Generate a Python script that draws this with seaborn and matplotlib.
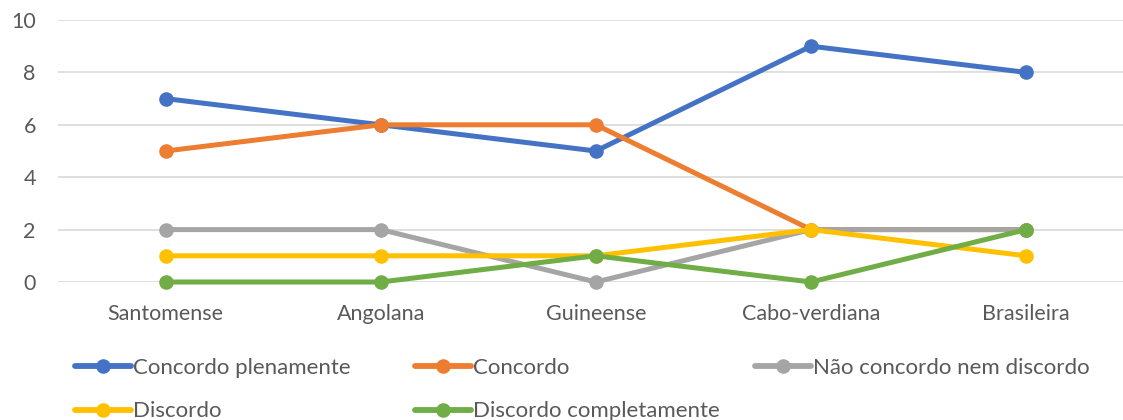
import matplotlib
matplotlib.use("Agg")
import matplotlib.pyplot as plt
import seaborn as sns
import pandas as pd
from matplotlib.lines import Line2D

categories = ["Santomense", "Angolana", "Guineense", "Cabo-verdiana", "Brasileira"]
series_names = ["Concordo plenamente", "Concordo", "Não concordo nem discordo",
                "Discordo", "Discordo completamente"]
concordo_plenamente = [7, 6, 5, 9, 8]
concordo = [5, 6, 6, 2, 2]
nem_nem = [2, 2, 0, 2, 2]
discordo = [1, 1, 1, 2, 1]
discordo_completamente = [0, 0, 1, 0, 2]
colors = ["#4472C4", "#ED7D31", "#A5A5A5", "#FFC000", "#70AD47"]

values = [concordo_plenamente, concordo, nem_nem, discordo, discordo_completamente]
rows = []
for name, vals in zip(series_names, values):
    for i, (cat, v) in enumerate(zip(categories, vals)):
        rows.append({"pos": i, "categoria": cat, "resposta": name, "valor": v})
df = pd.DataFrame(rows)

sns.set_theme(style="white")
plt.rcParams["font.family"] = ["Lato", "DejaVu Sans"]

fig = plt.figure(figsize=(11.23, 4.2), dpi=100)
ax = fig.add_axes([58 / 1123, 1 - 282 / 420, 1 - 58 / 1123, 262 / 420])

LW = 3.6
MS = 10.5
palette = dict(zip(series_names, colors))
sns.lineplot(data=df, x="pos", y="valor", hue="resposta", hue_order=series_names,
             palette=palette, marker="o", markersize=MS, markeredgewidth=0,
             linewidth=LW, legend=False, ax=ax, zorder=3)

ax.set_xlim(-0.5, 4.45)
ax.set_ylim(0, 10)
ax.set_yticks(range(0, 11, 2))
ax.set_xticks(range(len(categories)))
ax.set_xticklabels(categories)
ax.set_xlabel("")
ax.set_ylabel("")
ax.yaxis.grid(True, color="#D9D9D9", linewidth=1.2, zorder=0)
ax.set_axisbelow(True)
for s in ax.spines.values():
    s.set_visible(False)
ax.tick_params(axis="both", length=0, labelsize=15.5, colors="#595959")
ax.tick_params(axis="x", pad=16)
ax.tick_params(axis="y", pad=16)
for ln in ax.lines:
    ln.set_clip_on(False)

def handle(c):
    return Line2D([0], [0], color=c, linewidth=LW + 0.6, marker="o", markersize=MS,
                  markeredgewidth=0)

columns = [(75, [0, 3]), (415, [1, 4]), (755, [2])]
for x0, idx in columns:
    leg = fig.legend([handle(colors[i]) for i in idx], [series_names[i] for i in idx],
                     loc="upper left", bbox_to_anchor=(x0 / 1123, 1 - 358 / 420),
                     frameon=False, fontsize=16, handlelength=2.5, handletextpad=0.1,
                     labelspacing=1.05, borderaxespad=0, borderpad=0)
    for t in leg.get_texts():
        t.set_color("#595959")

fig.savefig("out.png", dpi=100)
